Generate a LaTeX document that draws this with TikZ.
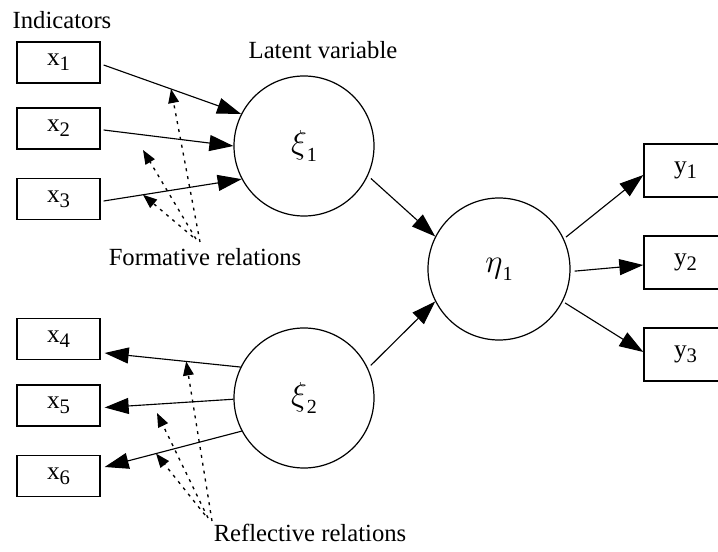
\documentclass[tikz,border=0pt]{standalone}
\usepackage{fontspec}
\setmainfont{Liberation Serif}
\usetikzlibrary{arrows.meta,calc}
\newcommand{\ind}[2]{{\fontsize{19}{19}\selectfont #1}\raisebox{-3.5pt}{\fontsize{15.5}{15.5}\selectfont #2}}
\newcommand{\lat}[2]{{\fontsize{32}{32}\selectfont$#1$}\raisebox{-6pt}{\fontsize{15}{15}\selectfont #2}}
\begin{document}
\begin{tikzpicture}[x=0.75pt,y=-0.75pt,
  xbox/.style={draw,line width=1pt,minimum width=62.25pt,minimum height=30.75pt,inner sep=0pt},
  ybox/.style={draw,line width=1pt,minimum width=62.25pt,minimum height=39.75pt,inner sep=0pt},
  latent/.style={draw,circle,line width=0.9pt,minimum size=105pt,inner sep=0pt},
  arr/.style={line width=0.85pt,-{Triangle[length=18pt,width=12pt]}},
  darr/.style={line width=1pt,dash pattern=on 2.25pt off 3.75pt,-{Triangle[length=10.5pt,width=8pt]}},
  lbl/.style={font=\fontsize{18.5}{18.5}\selectfont,inner sep=0pt,anchor=base}]
\useasboundingbox (0,0) rectangle (718,552);
% indicator boxes
\node[xbox] (x1) at (58.5,62.5) {\ind{x}{1}};
\node[xbox] (x2) at (58.5,128.5) {\ind{x}{2}};
\node[xbox] (x3) at (58.5,199) {\ind{x}{3}};
\node[xbox] (x4) at (58.5,339) {\ind{x}{4}};
\node[xbox] (x5) at (58.5,405.5) {\ind{x}{5}};
\node[xbox] (x6) at (58.5,476) {\ind{x}{6}};
\node[ybox] (y1) at (685.5,170.5) {\ind{y}{1}};
\node[ybox] (y2) at (685.5,262.5) {\ind{y}{2}};
\node[ybox] (y3) at (685.5,354.5) {\ind{y}{3}};
% latent variables
\node[latent] (xi1) at (304,146) {\lat{\xi}{1}};
\node[latent] (xi2) at (304,398) {\lat{\xi}{2}};
\node[latent,minimum size=106.5pt] (eta1) at (499,269) {\lat{\eta}{1}};
% texts
\node[lbl] (tind) at (62,29) {Indicators};
\node[lbl] (tlat) at (323,59) {Latent variable};
\node[lbl] (tform) at (205,266) {Formative relations};
\node[lbl] (trefl) at (310,541) {Reflective relations};
% formative arrows
\draw[arr] ($(x1.east)+(3,2.5)$) -- coordinate[pos=0.49] (f1) (xi1.153);
\draw[arr] ($(x2.east)+(3,1.5)$) -- (xi1.180);
\draw[arr] ($(x3.east)+(3,2)$) -- coordinate[pos=0.285] (f3) (xi1.208);
% reflective arrows
\draw[arr] (xi2.154) -- coordinate[pos=0.40] (r4) ($(x4.east)+(4,14)$);
\draw[arr] (xi2.181) -- ($(x5.east)+(4,2)$);
\draw[arr] (xi2.208) -- coordinate[pos=0.625] (r6) ($(x6.east)+(4,-9)$);
% structural arrows
\draw[arr,shorten <=3pt] (xi1.-25) -- (eta1.153);
\draw[arr,shorten <=3pt] (xi2.25) -- (eta1.207);
\draw[arr,shorten <=2pt] (eta1.25) -- ($(y1.west)+(0,4.5)$);
\draw[arr,shorten <=3pt] (eta1.-2) -- ($(y2.west)+(0,2.5)$);
\draw[arr,shorten <=2pt] (eta1.-27) -- ($(y3.west)+(0,-2.5)$);
% dotted relation arrows
\coordinate (f2) at (143,150);
\coordinate (r5) at (157,413);
\coordinate (fa) at (200,242);
\coordinate (fb) at (196,239);
\coordinate (fc) at (193,237);
\coordinate (ra) at (212,521);
\coordinate (rb) at (208,518);
\coordinate (rc) at (205,515);
\draw[darr] (fa) -- (f1);
\draw[darr] (fb) -- (f2);
\draw[darr] (fc) -- (f3);
\draw[darr] (ra) -- (r4);
\draw[darr] (rb) -- (r5);
\draw[darr] (rc) -- (r6);
\end{tikzpicture}
\end{document}
